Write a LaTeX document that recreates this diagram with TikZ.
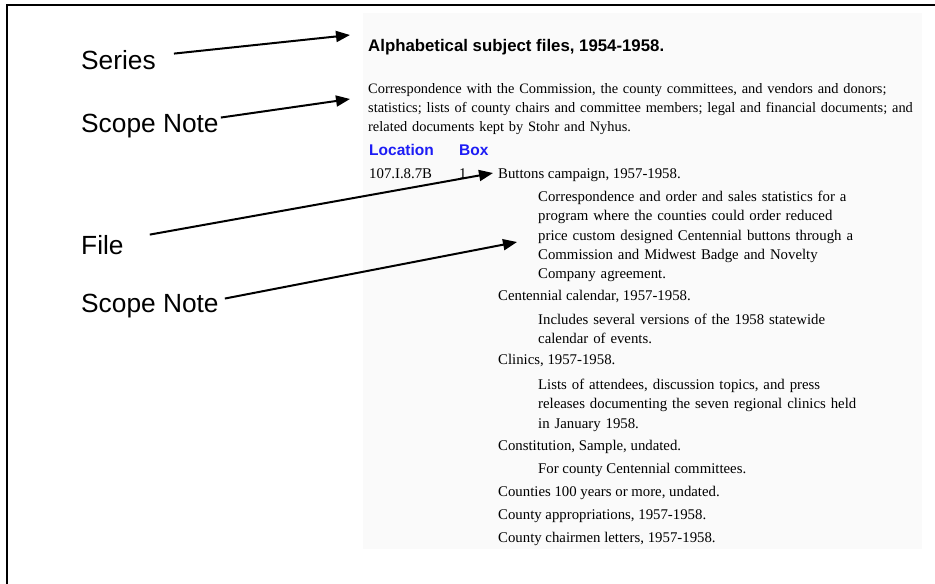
\documentclass[tikz,border=0pt]{standalone}
\usepackage{fontspec}
\setmainfont{Liberation Serif}
\setsansfont{Liberation Sans}
\usetikzlibrary{arrows.meta}
\definecolor{lochead}{RGB}{28,28,245}
\definecolor{pagebg}{RGB}{250,250,250}
\tikzset{
  callout/.style={font=\sffamily\fontsize{26.3}{30}\selectfont, anchor=base west, inner sep=0pt},
  pointer/.style={line width=2pt, -{Triangle[length=14pt,width=11pt]}},
  entry/.style={font=\fontsize{14.8}{19.3}\selectfont, anchor=base west, inner sep=0pt},
  note/.style={entry, text width=340pt, align=left},
  colhead/.style={font=\sffamily\bfseries\fontsize{15.5}{18}\selectfont, text=lochead, anchor=base west, inner sep=0pt}
}

\begin{document}
\begin{tikzpicture}[x=1pt,y=-1pt]
  \useasboundingbox (0,0) rectangle (935,584);
  \fill[pagebg] (363,13) rectangle (922,549);
  \draw[line width=2pt] (7,584) -- (7,5) -- (935,5);

  % finding aid page
  \node[anchor=base west, inner sep=0pt, font=\sffamily\bfseries\fontsize{16.8}{20}\selectfont] (title) at (368,51) {Alphabetical subject files, 1954-1958.};
  \node[note, text width=570pt, font=\fontsize{14.4}{19.4}\selectfont] (scopenote) at (368,93) {Correspondence with the Commission, the county committees, and vendors and donors;\\
    statistics; lists of county chairs and committee members; legal and financial documents; and\\
    related documents kept by Stohr and Nyhus.};
  \node[colhead] (lochd) at (369,155.5) {Location};
  \node[colhead] (boxhd) at (459,155.5) {Box};
  \node[entry] (locno) at (369,178) {107.I.8.7B};
  \node[entry] (boxno) at (459,178) {1};

  \node[entry] (file1) at (498,178) {Buttons campaign, 1957-1958.};
  \node[note] (file1note) at (538,201.5) {Correspondence and order and sales statistics for a\\
    program where the counties could order reduced\\
    price custom designed Centennial buttons through a\\
    Commission and Midwest Badge and Novelty\\
    Company agreement.};
  \node[entry] (file2) at (498,300.5) {Centennial calendar, 1957-1958.};
  \node[note] (file2note) at (538,324.5) {Includes several versions of the 1958 statewide\\
    calendar of events.};
  \node[entry] (file3) at (498,364.5) {Clinics, 1957-1958.};
  \node[note] (file3note) at (538,389.5) {Lists of attendees, discussion topics, and press\\
    releases documenting the seven regional clinics held\\
    in January 1958.};
  \node[entry] (file4) at (498,450.5) {Constitution, Sample, undated.};
  \node[entry] (file4note) at (538,473.5) {For county Centennial committees.};
  \node[entry] (file5) at (498,496.5) {Counties 100 years or more, undated.};
  \node[entry] (file6) at (498,519.5) {County appropriations, 1957-1958.};
  \node[entry] (file7) at (498,542) {County chairmen letters, 1957-1958.};

  % callouts
  \node[callout] (lblseries) at (81,69) {Series};
  \node[callout] (lblscope) at (81,132) {Scope Note};
  \node[callout] (lblfile) at (81,254) {File};
  \node[callout] (lblfilescope) at (81,312) {Scope Note};

  \coordinate (seriestip) at (350,35);
  \coordinate (scopetip) at (350,99);
  \coordinate (filetip) at (493,173);
  \coordinate (filescopetip) at (517,242);

  \draw[pointer] ([shift={(18,-6)}]lblseries.east) -- (seriestip);
  \draw[pointer] ([shift={(2,-8)}]lblscope.east) -- (scopetip);
  \draw[pointer] ([shift={(26,-10)}]lblfile.east) -- (filetip);
  \draw[pointer] ([shift={(6,-7)}]lblfilescope.east) -- (filescopetip);
\end{tikzpicture}
\end{document}
